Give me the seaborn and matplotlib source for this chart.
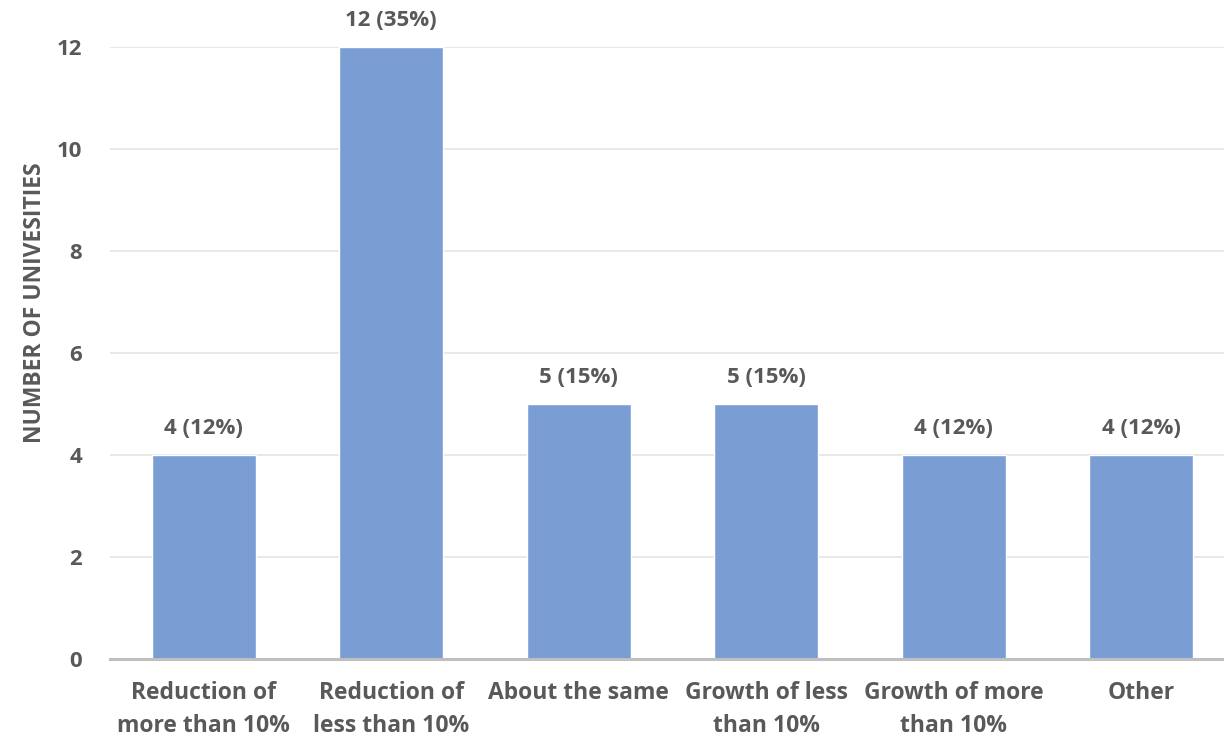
import matplotlib
matplotlib.use("Agg")
import matplotlib.pyplot as plt
import seaborn as sns
import pandas as pd

# Survey responses: expected change in enrolment
categories = [
    "Reduction of\nmore than 10%",
    "Reduction of\nless than 10%",
    "About the same",
    "Growth of less\nthan 10%",
    "Growth of more\nthan 10%",
    "Other",
]
counts = [4, 12, 5, 5, 4, 4]
percents = [12, 35, 15, 15, 12, 12]
y_ticks = [0, 2, 4, 6, 8, 10, 12]
y_title = "NUMBER OF UNIVESITIES"

df = pd.DataFrame({"category": categories, "count": counts})

sns.set_theme(style="white")
plt.rcParams["font.family"] = ["Open Sans", "DejaVu Sans"]
plt.rcParams["font.weight"] = "bold"

text_color = "#595959"
bar_color = "#7A9DD4"

fig = plt.figure(figsize=(12.24, 7.38), dpi=100)
W, H = 1224, 738
left, right, top, bottom = 110, 1224, 47, 659
ax = fig.add_axes([left / W, 1 - bottom / H, (right - left) / W, (bottom - top) / H])

sns.barplot(data=df, x="category", y="count", color=bar_color, saturation=1,
            width=0.555, ax=ax, zorder=3)

slot = 187.5
ax.set_xlim(-0.5, -0.5 + (right - left) / slot)
ax.set_ylim(0, 12)
ax.set_yticks(y_ticks)
ax.yaxis.grid(True, color="#E6E6E6", linewidth=1.3, zorder=0)
ax.set_axisbelow(True)

for s in ["top", "right", "left"]:
    ax.spines[s].set_visible(False)
ax.spines["bottom"].set_color("#BFBFBF")
ax.spines["bottom"].set_linewidth(2.2)
ax.spines["bottom"].set_zorder(4)

ax.tick_params(axis="both", length=0, colors=text_color)
ax.tick_params(axis="y", pad=20, labelsize=16)
ax.tick_params(axis="x", pad=16, labelsize=16.5)
for lbl in ax.get_xticklabels() + ax.get_yticklabels():
    lbl.set_fontweight("bold")
    lbl.set_color(text_color)
for lbl in ax.get_xticklabels():
    lbl.set_linespacing(1.5)
    lbl.set_verticalalignment("top")

ax.set_xlabel("")
ax.set_ylabel("")
fig.text(35 / W, 1 - 303 / H, y_title, rotation=90,
         ha="center", va="center", fontsize=16.5, fontweight="bold", color=text_color)

for i, (c, p) in enumerate(zip(counts, percents)):
    ax.annotate(f"{c} ({p}%)", xy=(i, c), xytext=(0, 19), textcoords="offset points",
                ha="center", va="center", fontsize=16, fontweight="bold",
                color=text_color, annotation_clip=False)

fig.savefig("out.png", dpi=100, facecolor="white")
